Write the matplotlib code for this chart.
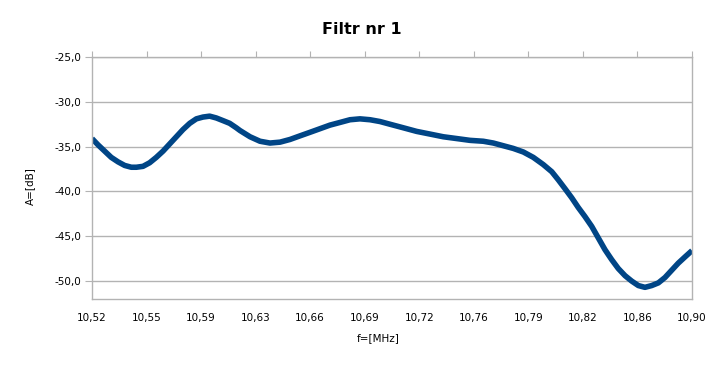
import matplotlib
matplotlib.use("Agg")
import matplotlib.pyplot as plt
from matplotlib.ticker import FixedLocator, FixedFormatter, FuncFormatter
import numpy as np

# Data (frequency in MHz, attenuation in dB)
freq = [10.5200, 10.5238, 10.5280, 10.5322, 10.5365, 10.5407, 10.5449, 10.5481,
        10.5523, 10.5565, 10.5607, 10.5650, 10.5692, 10.5734, 10.5776, 10.5819,
        10.5861, 10.5903, 10.5945, 10.5987, 10.6030, 10.6072, 10.6114, 10.6137,
        10.6201, 10.6264, 10.6327, 10.6391, 10.6454, 10.6517, 10.6581, 10.6644,
        10.6707, 10.6771, 10.6834, 10.6897, 10.6961, 10.7024, 10.7087, 10.7172,
        10.7256, 10.7341, 10.7425, 10.7510, 10.7594, 10.7678, 10.7742, 10.7805,
        10.7868, 10.7932, 10.7995, 10.8058, 10.8112, 10.8153, 10.8196, 10.8238,
        10.8280, 10.8322, 10.8365, 10.8407, 10.8449, 10.8491, 10.8533, 10.8576,
        10.8618, 10.8660, 10.8702, 10.8745, 10.8787, 10.8829, 10.8871, 10.8913,
        10.8956, 10.9000]
atten = [-34.1, -34.8, -35.5, -36.2, -36.7, -37.1, -37.3, -37.3,
         -37.2, -36.8, -36.2, -35.5, -34.7, -33.9, -33.1, -32.4,
         -31.9, -31.7, -31.6, -31.8, -32.1, -32.4, -32.9, -33.2,
         -33.9, -34.4, -34.6, -34.5, -34.2, -33.8, -33.4, -33.0,
         -32.6, -32.3, -32.0, -31.9, -32.0, -32.2, -32.5, -32.9,
         -33.3, -33.6, -33.9, -34.1, -34.3, -34.4, -34.6, -34.9,
         -35.2, -35.6, -36.2, -37.0, -37.8, -38.7, -39.7, -40.7,
         -41.8, -42.8, -43.9, -45.2, -46.5, -47.6, -48.6, -49.4,
         -50.0, -50.5, -50.7, -50.5, -50.2, -49.6, -48.8, -48.0,
         -47.3, -46.6]

x_ticks = list(np.linspace(10.52, 10.90, 12))
x_tick_labels = ["10,52", "10,55", "10,59", "10,63", "10,66", "10,69",
                 "10,72", "10,76", "10,79", "10,82", "10,86", "10,90"]
y_ticks = [-50.0, -45.0, -40.0, -35.0, -30.0, -25.0]
title = "Filtr nr 1"
xlabel = "f=[MHz]"
ylabel = "A=[dB]"

W, H = 723, 366
fig = plt.figure(figsize=(W / 100, H / 100), dpi=100)
ax = fig.add_axes([92 / W, 1 - 299 / H, 600 / W, 242 / H])

ax.plot(freq, atten, color="#004586", linewidth=4.0, solid_capstyle="butt",
        solid_joinstyle="round")

ax.set_xlim(10.52, 10.90)
ax.set_ylim(-52, -25)
ax.xaxis.set_major_locator(FixedLocator(x_ticks))
ax.xaxis.set_major_formatter(FixedFormatter(x_tick_labels))
ax.yaxis.set_major_locator(FixedLocator(y_ticks))
ax.yaxis.set_major_formatter(FuncFormatter(lambda v, p: f"{v:.1f}".replace(".", ",")))

grid_c = "#b3b3b3"
ax.grid(axis="y", color=grid_c, linewidth=1.0)
ax.set_axisbelow(True)
for s in ax.spines.values():
    s.set_color(grid_c)
    s.set_linewidth(1.0)

ax.tick_params(axis="x", top=True, bottom=False, labeltop=False, labelbottom=True,
               direction="out", length=4, color=grid_c, labelsize=7.5, pad=6)
ax.tick_params(axis="y", left=True, direction="out", length=5, color=grid_c,
               labelsize=7.5, pad=3)

fig.text(361.5 / W, 1 - 29 / H, title, ha="center", va="center",
         fontsize=11.5, fontweight="bold")
fig.text(378 / W, 1 - 338 / H, xlabel, ha="center", va="center", fontsize=7.5)
fig.text(30 / W, 1 - 186 / H, ylabel, ha="center", va="center", fontsize=7.5,
         rotation=90)

fig.savefig("out.png", dpi=100)
